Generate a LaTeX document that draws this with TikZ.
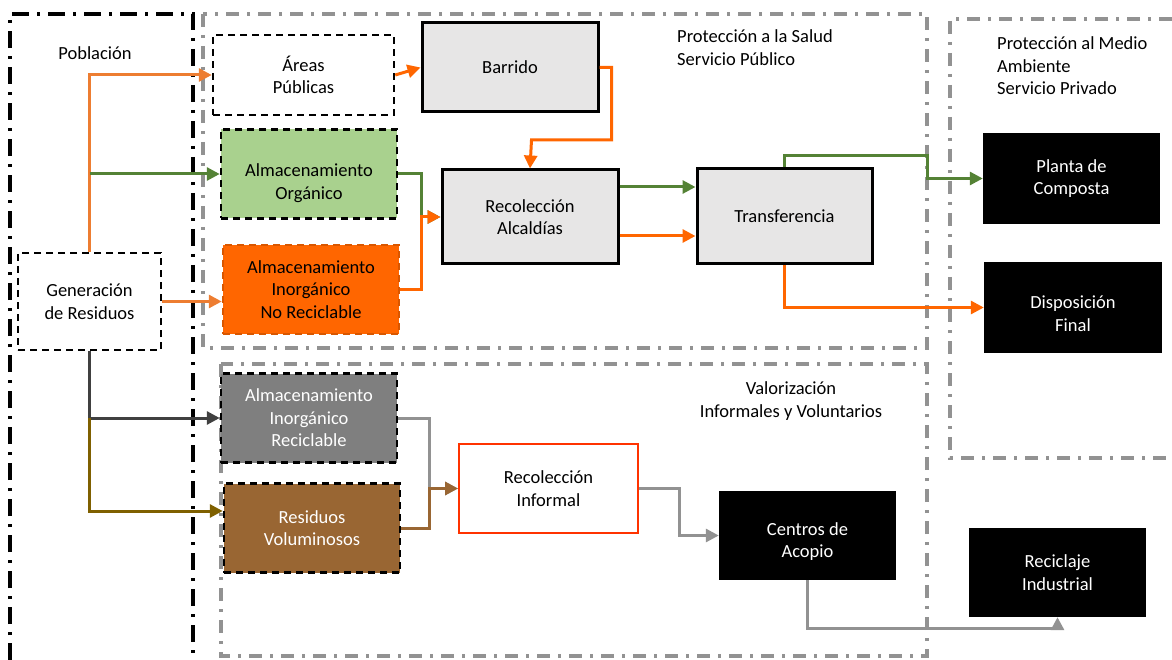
\documentclass[tikz,border=0pt]{standalone}
\usepackage{fontspec}
\setmainfont{Carlito}
\usetikzlibrary{arrows.meta,calc,positioning}
\definecolor{naranjaC}{HTML}{ED7D31}
\definecolor{naranjaF}{HTML}{FF6600}
\definecolor{verdeF}{HTML}{548235}
\definecolor{verdeC}{HTML}{A9D18E}
\definecolor{grisF}{HTML}{404040}
\definecolor{grisM}{HTML}{7F7F7F}
\definecolor{grisL}{HTML}{929292}
\definecolor{grisB}{HTML}{E7E6E6}
\definecolor{ocre}{HTML}{7F6000}
\definecolor{cafe}{HTML}{996633}
\definecolor{rojo}{HTML}{FF3300}

\begin{document}
\begin{tikzpicture}[x=1pt,y=-1pt,
	font=\fontsize{18.5}{22.6}\selectfont,
	caja/.style={minimum width=176pt,minimum height=89pt,align=center,inner sep=2pt},
	punteada/.style={caja,draw,line width=2.5pt,dash pattern=on 7pt off 5pt},
	solida/.style={caja,draw,line width=3pt,fill=grisB},
	negra/.style={caja,fill=black,text=white},
	zonaN/.style={line width=4pt,dash pattern=on 17pt off 8pt on 3pt off 8pt},
	zonaG/.style={line width=4pt,grisL,dash pattern=on 13pt off 8pt on 3pt off 8pt},
	flecha/.style={line width=3pt,-{Triangle[length=13pt,width=13pt]}}]
	\useasboundingbox (0,0) rectangle (1172,660);
	
	% zonas
	\draw[zonaN] (10,660) |- (193,14) -- (193,660);
	\draw[zonaG] (203,14) rectangle (927,348);
	\draw[zonaG] (1172,19) -| (950,458) -- (1172,458);
	\draw[zonaG] (221,364) rectangle (927,656);
	
	\node (pob) at (95,53) {Población};
	\node[anchor=west,align=left,inner sep=0] (salud) at (677,47.5) {Protección a la Salud\\Servicio Público};
	\node[anchor=west,align=left,inner sep=0] (medio) at (997,66) {Protección al Medio\\Ambiente\\Servicio Privado};
	\node[align=center,inner sep=0] (valor) at (791,401) {Valorización\\Informales y Voluntarios};
	
	% cajas
	\node[punteada,minimum width=143pt,minimum height=97pt,fill=white] (gen) at (89.5,301.5) {Generación\\de Residuos};
	\node[punteada,minimum width=181pt,minimum height=80pt,fill=white] (areas) at (303.5,75) {Áreas\\Públicas};
	\node[punteada,fill=verdeC,label={[align=center,yshift=-9pt]center:Almacenamiento\\Orgánico}] (org) at (309,174) {};
	\node[punteada,fill=naranjaF,draw=naranjaF!85!black] (inr) at (311,289.5) {Almacenamiento\\Inorgánico\\No Reciclable};
	\node[punteada,fill=grisM,text=white] (rcl) at (309,418) {Almacenamiento\\Inorgánico\\Reciclable};
	\node[punteada,fill=cafe,text=white] (vol) at (312,528) {Residuos\\Voluminosos};
	
	\node[solida] (bar) at (510,67.5) {Barrido};
	\node[solida,minimum height=94pt] (rec) at (530,217) {Recolección\\Alcaldías};
	\node[solida,minimum width=175pt,minimum height=95pt] (tra) at (784.5,216.5) {Transferencia};
	\node[caja,draw=rojo,line width=2pt,minimum width=179pt] (ri) at (548.5,488.5) {Recolección\\Informal};
	
	\node[negra,minimum width=177pt,minimum height=91pt] (pla) at (1071.5,178.5) {Planta de\\Composta};
	\node[negra,minimum width=178pt,minimum height=91pt,label={[text=white,align=center,yshift=-6pt]center:Disposición\\Final}] (dis) at (1073,307.5) {};
	\node[negra,minimum width=177pt,label={[text=white,align=center,yshift=-6pt]center:Centros de\\Acopio}] (cen) at (807.5,535.5) {};
	\node[negra,minimum width=177pt] (rind) at (1057.5,572.5) {Reciclaje\\Industrial};
	
	\coordinate (recV) at ($(rec.east)+(0,-30)$);
	\coordinate (recN) at ($(rec.east)+(0,19)$);
	
	% flujos
	\draw[flecha,naranjaC] (gen.north) |- (areas.west);
	\draw[flecha,verdeF] (gen.north |- org.west) -- (org.west);
	\draw[flecha,naranjaC] (gen.east) -- (gen.east -| inr.west);
	\draw[flecha,naranjaF] (areas.east) -- (bar.west);
	\draw[flecha,naranjaF] (bar.east) -- ++(12,0) |- ++(-80,72.5) -- (rec.north);
	\draw[flecha,verdeF] (org.east) -- ++(23,0) |- (rec.west);
	\draw[flecha,naranjaF] (inr.east) -- ++(21,0) |- (rec.west);
	\draw[flecha,verdeF] (recV) -- (recV -| tra.west);
	\draw[flecha,naranjaF] (recN) -- (recN -| tra.west);
	\draw[flecha,verdeF] (tra.north) -- ++(0,-12) -| ($(pla.west)+(-55,0)$) -- (pla.west);
	\draw[flecha,naranjaF] (tra.south) |- (dis.west);
	
	\draw[flecha,grisF] (gen.south) |- (rcl.west);
	\draw[flecha,ocre] (gen.south |- rcl.west) |- ($(vol.west)+(0,-17)$);
	\draw[flecha,grisL] (rcl.east) -- ++(31,0) |- (ri.west);
	\draw[flecha,cafe] (vol.east) -- ++(28,0) |- (ri.west);
	\draw[flecha,grisL] (ri.east) -- ++(40,0) |- (cen.west);
	\draw[flecha,grisL] (cen.south) -- ++(0,48) -| (rind.south);
\end{tikzpicture}
\end{document}
